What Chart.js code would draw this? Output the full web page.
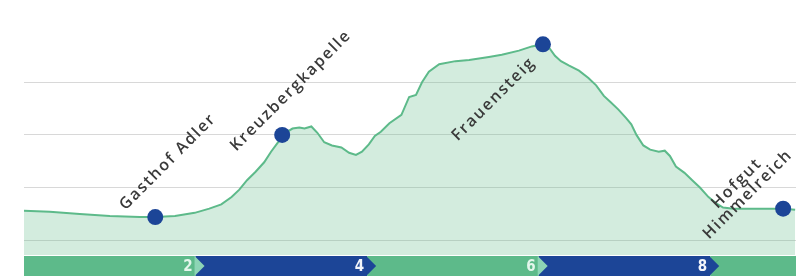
<!DOCTYPE html>
<html>
<head>
<meta charset="utf-8">
<script src="https://cdn.jsdelivr.net/npm/chart.js@4.4.1/dist/chart.umd.min.js"></script>
<style>
  html, body { margin: 0; padding: 0; background: #fff; }
</style>
</head>
<body>
<canvas id="profile" width="804" height="280"></canvas>
<script>
'use strict';

// Elevation profile (km along route, metres)
const distKm = [0.00, 0.30, 0.65, 1.00, 1.35, 1.53, 1.76, 1.99, 2.16, 2.30, 2.42, 2.51, 2.60, 2.70, 2.80, 2.88, 2.98, 3.01,
  3.13, 3.21, 3.27, 3.35, 3.42, 3.50, 3.59, 3.70, 3.79, 3.87, 3.94, 4.02, 4.09, 4.16, 4.26, 4.40, 4.49, 4.57, 4.64, 4.72,
  4.84, 5.03, 5.19, 5.42, 5.57, 5.77, 5.92, 6.05, 6.12, 6.19, 6.26, 6.35, 6.47, 6.58, 6.67, 6.76, 6.84, 6.93, 7.02, 7.08,
  7.14, 7.22, 7.30, 7.40, 7.47, 7.53, 7.60, 7.70, 7.79, 7.88, 7.98, 8.07, 8.15, 8.27, 8.44, 8.67, 8.85, 8.99];
const elevation = [528, 527, 525, 523, 522, 522, 523, 526, 530, 534, 541, 548, 557, 565, 574, 584, 595, 600,
  606, 607, 606, 608, 602, 593, 590, 588, 583, 581, 584, 591, 599, 603, 611, 619, 636, 638, 650, 660,
  667, 670, 671, 674, 676, 680, 684, 686, 683, 675, 670, 666, 661, 654, 647, 637, 631, 624, 616, 610,
  600, 590, 586, 584, 585, 580, 570, 564, 557, 550, 541, 535, 531, 530, 530, 530, 530, 529];

// Stops on the route
const stopNames = ['Gasthof Adler', 'Kreuzbergkapelle', 'Frauensteig', 'Hofgut\nHimmelreich'];
const stopKm = [1.53, 3.01, 6.05, 8.85];
const stopElevation = [522, 600, 686, 530];

// Axis
const kmTicks = [2, 4, 6, 8];
const routeLength = 9.0;
const gridLevels = [500, 550, 600, 650];

// label placement relative to the point (baseline centre of first line)
const labelPlacement = [
    { dx: 16, dy: -52 },
    { dx: 12, dy: -41 },
    { dx: -46, dy: 58 },
    { dx: -43, dy: -22 }
];

const green = '#5dba8a';
const blue = '#1c4597';

const stopLabels = {
    id: 'stopLabels',
    afterDatasetsDraw(chart) {
        const ctx = chart.ctx;
        const meta = chart.getDatasetMeta(1);
        ctx.save();
        ctx.fillStyle = '#3a3a3a';
        ctx.font = '600 16px "Open Sans"';
        ctx.letterSpacing = '1.8px';
        ctx.textAlign = 'center';
        ctx.textBaseline = 'alphabetic';
        meta.data.forEach(function(pt, i) {
            const lines = stopNames[i].split('\n');
            const place = labelPlacement[i];
            lines.forEach(function(line, j) {
                ctx.save();
                ctx.translate(pt.x + place.dx + j * 11, pt.y + place.dy + j * 11);
                ctx.rotate(-Math.PI / 4);
                ctx.fillText(line, 0, 0);
                ctx.restore();
            });
        });
        ctx.restore();
    }
};

const kmBar = {
    id: 'kmBar',
    afterDraw(chart) {
        const ctx = chart.ctx;
        const x = chart.scales.x;
        const top = chart.chartArea.bottom + 1;
        const h = 20;
        const edges = [0].concat(kmTicks, [routeLength]);
        ctx.save();
        for (let i = 0; i < edges.length - 1; i++) {
            ctx.fillStyle = i % 2 === 0 ? green : blue;
            const x0 = x.getPixelForValue(edges[i]);
            const x1 = x.getPixelForValue(edges[i + 1]);
            ctx.fillRect(x0, top, x1 - x0, h);
        }
        ctx.font = 'bold 15px "DejaVu Sans Condensed"';
        ctx.textAlign = 'right';
        ctx.textBaseline = 'middle';
        kmTicks.forEach(function(km, i) {
            const bx = x.getPixelForValue(km);
            ctx.fillStyle = i % 2 === 0 ? '#8dd5b5' : blue;
            ctx.beginPath();
            ctx.moveTo(bx - 1, top);
            ctx.lineTo(bx + 9, top + h / 2);
            ctx.lineTo(bx - 1, top + h);
            ctx.closePath();
            ctx.fill();
            ctx.fillStyle = i % 2 === 0 ? '#e4f6ec' : '#f2f4fa';
            ctx.fillText(String(km), bx - 3, top + h / 2 + 1);
        });
        ctx.restore();
    }
};

const profileData = distKm.map(function(d, i) { return { x: d, y: elevation[i] }; });
const stopData = stopKm.map(function(d, i) { return { x: d, y: stopElevation[i] }; });

new Chart(document.getElementById('profile'), {
    type: 'line',
    data: {
        datasets: [{
            label: 'Höhe',
            data: profileData,
            borderColor: green,
            borderWidth: 2,
            backgroundColor: 'rgba(105, 190, 140, 0.29)',
            fill: 'origin',
            pointRadius: 0,
            tension: 0,
            order: 1
        }, {
            label: 'Stationen',
            data: stopData,
            showLine: false,
            pointRadius: 8,
            pointBackgroundColor: blue,
            pointBorderWidth: 0,
            order: 0
        }]
    },
    options: {
        responsive: false,
        animation: false,
        layout: {
            padding: { left: 24, right: 7, top: 19, bottom: 25 }
        },
        plugins: {
            legend: { display: false },
            tooltip: { enabled: false }
        },
        scales: {
            x: {
                type: 'linear',
                min: 0,
                max: routeLength,
                display: false
            },
            y: {
                min: 486,
                max: 710,
                afterBuildTicks: function(scale) {
                    scale.ticks = gridLevels.map(function(v) { return { value: v }; });
                },
                ticks: { display: false },
                border: { display: false },
                grid: { color: '#d8d8d8', lineWidth: 1, drawTicks: false }
            }
        }
    },
    plugins: [stopLabels, kmBar]
});
</script>
</body>
</html>
